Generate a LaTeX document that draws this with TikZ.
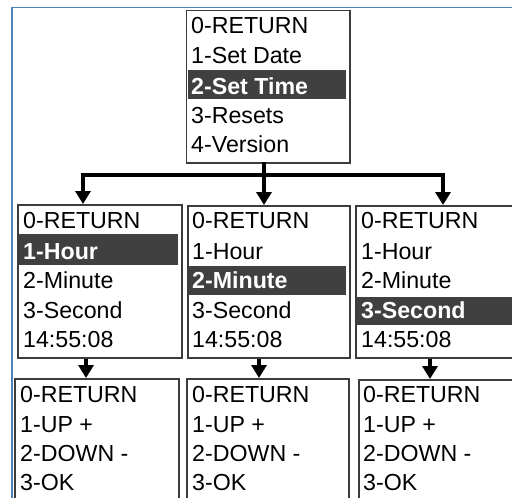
\documentclass[tikz,border=0pt]{standalone}
\usepackage{fontspec}
\setmainfont{Liberation Sans}
\usetikzlibrary{arrows.meta}
\definecolor{frameblue}{RGB}{79,129,189}
\definecolor{boxgray}{RGB}{60,60,60}
\definecolor{hlgray}{RGB}{64,64,64}
\tikzset{
  menubox/.style={draw=boxgray, line width=1.8pt, fill=white, rectangle, inner sep=0pt, anchor=north west},
  hlbar/.style={fill=hlgray, rectangle, inner sep=0pt, anchor=north west},
  itemtxt/.style={anchor=base west, inner sep=0pt, font=\fontsize{23.2}{27}\selectfont, text=black},
  seltxt/.style={anchor=base west, inner sep=0pt, font=\fontsize{23.2}{27}\selectfont\bfseries, text=white},
  conn/.style={line width=3.5pt, draw=black},
  connarrow/.style={conn, -{Triangle[width=15pt,length=13pt]}},
}
\begin{document}
\begin{tikzpicture}[x=1pt,y=-1pt]
\useasboundingbox (0,0) rectangle (512,498);
\clip (0,0) rectangle (512,498);
% outer frame
\draw[frameblue, line width=1.6pt] (12,7.5) rectangle (540,540);

% top box
\node[menubox, minimum width=163.5pt, minimum height=152.5pt] (top) at (185.5,9.5) {};
\node[hlbar, minimum width=158pt, minimum height=29pt] (tophl) at (188,70) {};
\node[itemtxt] (t0) at (191,33) {0-RETURN};
\node[itemtxt] (t1) at (191,63) {1-Set Date};
\node[seltxt]  (t2) at (191,94) {2-Set Time};
\node[itemtxt] (t3) at (191,123) {3-Resets};
\node[itemtxt] (t4) at (191,152) {4-Version};

% middle row
\node[menubox, minimum width=164pt, minimum height=153pt] (m1) at (17,204) {};
\node[menubox, minimum width=162pt, minimum height=152pt] (m2) at (187,205) {};
\node[menubox, minimum width=175pt, minimum height=152pt] (m3) at (355,205) {};
\node[hlbar, minimum width=159pt, minimum height=31pt] (m1hl) at (19,234) {};
\node[hlbar, minimum width=157pt, minimum height=29pt] (m2hl) at (189,266) {};
\node[hlbar, minimum width=170pt, minimum height=28pt] (m3hl) at (357,297) {};

\node[itemtxt] (a0) at (23,228) {0-RETURN};
\node[seltxt]  (a1) at (23,259) {1-Hour};
\node[itemtxt] (a2) at (23,288) {2-Minute};
\node[itemtxt] (a3) at (23,318) {3-Second};
\node[itemtxt] (a4) at (23,347) {14:55:08};

\node[itemtxt] (b0) at (192,228) {0-RETURN};
\node[itemtxt] (b1) at (192,259) {1-Hour};
\node[seltxt]  (b2) at (192,288) {2-Minute};
\node[itemtxt] (b3) at (192,318) {3-Second};
\node[itemtxt] (b4) at (192,347) {14:55:08};

\node[itemtxt] (c0) at (361,228) {0-RETURN};
\node[itemtxt] (c1) at (361,259) {1-Hour};
\node[itemtxt] (c2) at (361,288) {2-Minute};
\node[seltxt]  (c3) at (361,318) {3-Second};
\node[itemtxt] (c4) at (361,347) {14:55:08};

% bottom row
\node[menubox, minimum width=164pt, minimum height=140pt] (d1) at (14,378) {};
\node[menubox, minimum width=162pt, minimum height=140pt] (d2) at (186,378) {};
\node[menubox, minimum width=175pt, minimum height=140pt] (d3) at (358,379) {};

\node[itemtxt] (e0) at (20,402) {0-RETURN};
\node[itemtxt] (e1) at (20,432) {1-UP +};
\node[itemtxt] (e2) at (20,461) {2-DOWN -};
\node[itemtxt] (e3) at (20,490) {3-OK};

\node[itemtxt] (f0) at (192,402) {0-RETURN};
\node[itemtxt] (f1) at (192,432) {1-UP +};
\node[itemtxt] (f2) at (192,461) {2-DOWN -};
\node[itemtxt] (f3) at (192,490) {3-OK};

\node[itemtxt] (g0) at (363,402) {0-RETURN};
\node[itemtxt] (g1) at (363,432) {1-UP +};
\node[itemtxt] (g2) at (363,461) {2-DOWN -};
\node[itemtxt] (g3) at (363,490) {3-OK};

% connectors
\coordinate (jc) at (264,175);
\coordinate (jl) at (83,175);
\coordinate (jr) at (443,175);
\draw[conn, line cap=rect] (top.south -| jc) -- (jc);
\draw[conn, line cap=rect] (jl) -- (jr);
\draw[connarrow] (jl) -- (jl |- m1.north);
\draw[connarrow] (jc) -- (jc |- m2.north);
\draw[connarrow] (jr) -- (jr |- m3.north);

\coordinate (k1) at (86,357);
\coordinate (k2) at (259,357);
\coordinate (k3) at (430,357);
\draw[connarrow] (k1 |- m1.south) -- (k1 |- d1.north);
\draw[connarrow] (k2 |- m2.south) -- (k2 |- d2.north);
\draw[connarrow] (k3 |- m3.south) -- (k3 |- d3.north);
\end{tikzpicture}
\end{document}
